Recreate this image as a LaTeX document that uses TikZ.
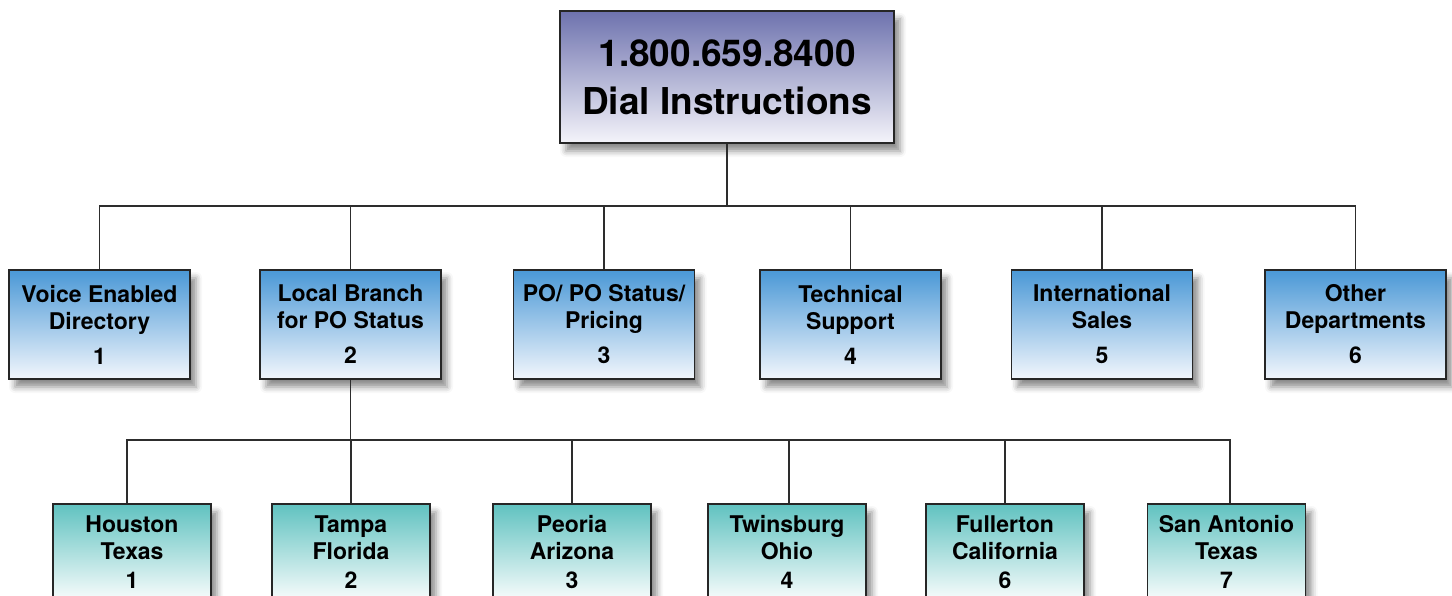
\documentclass[tikz,border=0pt]{standalone}
\usepackage{fontspec}
\setmainfont{TeX Gyre Heros}
\usetikzlibrary{shadows.blur}
\definecolor{topc}{RGB}{110,114,174}
\definecolor{topb}{RGB}{244,244,250}
\definecolor{bluec}{RGB}{74,152,214}
\definecolor{blueb}{RGB}{242,246,252}
\definecolor{tealc}{RGB}{96,194,192}
\definecolor{tealb}{RGB}{248,252,252}
\definecolor{linec}{RGB}{45,45,45}
\tikzset{
  boxbase/.style={draw=black!85, line width=1.1pt, align=center, font=\bfseries,
    blur shadow={shadow xshift=6pt, shadow yshift=-8pt, shadow opacity=45, shadow blur radius=6pt}},
  topbox/.style={boxbase, top color=topc, bottom color=topb, minimum width=334pt, minimum height=132pt,
    font=\fontsize{37}{48}\selectfont\bfseries},
  lvtwo/.style={boxbase, top color=bluec, bottom color=blueb, minimum width=181pt, minimum height=109pt,
    font=\fontsize{23}{27}\selectfont\bfseries},
  lvthree/.style={boxbase, top color=tealc, bottom color=tealb, minimum width=158pt, minimum height=96pt,
    font=\fontsize{23}{27}\selectfont\bfseries},
  conn/.style={draw=linec, line width=1.3pt}
}
\begin{document}
\begin{tikzpicture}[x=1pt,y=-1pt]
\useasboundingbox (0,0) rectangle (1452,596);
\coordinate (bus1) at (0,206);
\coordinate (bus2) at (0,440);
\node[topbox] (t) at (727,77) {1.800.659.8400\\Dial Instructions};
\node[lvtwo] (b1) at (99.5,324.5) {Voice Enabled\\Directory\\[8pt]1};
\node[lvtwo] (b2) at (350.5,324.5) {Local Branch\\for PO Status\\[8pt]2};
\node[lvtwo] (b3) at (604,324.5) {PO/ PO Status/\\Pricing\\[8pt]3};
\node[lvtwo] (b4) at (850.5,324.5) {Technical\\Support\\[8pt]4};
\node[lvtwo] (b5) at (1102,324.5) {International\\Sales\\[8pt]5};
\node[lvtwo] (b6) at (1355.5,324.5) {Other\\Departments\\[8pt]6};
\node[lvthree] (c1) at (132,552) {Houston\\Texas\\[2pt]1};
\node[lvthree] (c2) at (351,552) {Tampa\\Florida\\[2pt]2};
\node[lvthree] (c3) at (572,552) {Peoria\\Arizona\\[2pt]3};
\node[lvthree] (c4) at (787,552) {Twinsburg\\Ohio\\[2pt]4};
\node[lvthree] (c5) at (1005,552) {Fullerton\\California\\[2pt]6};
\node[lvthree] (c6) at (1226.5,552) {San Antonio\\Texas\\[2pt]7};
% level 1 to 2
\draw[conn] (t.south) -- (t.south |- bus1);
\draw[conn] (b1.north) -- (b1.north |- bus1) -- (b6.north |- bus1) -- (b6.north);
\foreach \n in {b2,b3,b4,b5} \draw[conn] (\n.north) -- (\n.north |- bus1);
% level 2 to 3
\coordinate (c1top) at ([xshift=-5pt]c1.north);
\coordinate (c4top) at ([xshift=2pt]c4.north);
\coordinate (c6top) at ([xshift=3.5pt]c6.north);
\draw[conn] (b2.south) -- (b2.south |- bus2);
\draw[conn] (c1top) -- (c1top |- bus2) -- (c6top |- bus2) -- (c6top);
\foreach \n in {c2.north,c3.north,c4top,c5.north} \draw[conn] (\n) -- (\n |- bus2);
\end{tikzpicture}
\end{document}
